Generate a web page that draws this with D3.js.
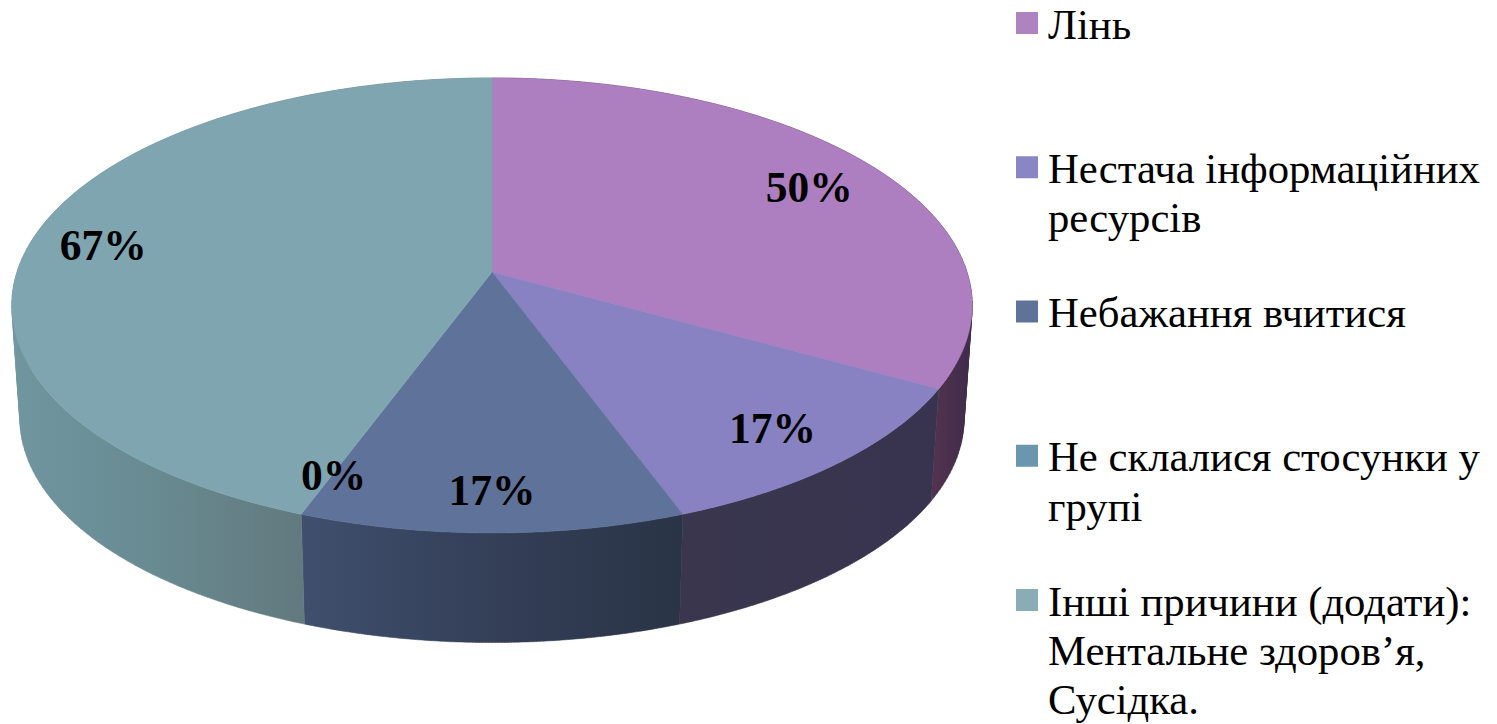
<!DOCTYPE html>
<html lang="uk">
<head>
<meta charset="utf-8">
<title>Причини</title>
<script src="https://cdn.jsdelivr.net/npm/d3@7/dist/d3.min.js"></script>
<style>
html,body{margin:0;padding:0;background:#fff;overflow:hidden}
svg{display:block}
text{font-family:"Liberation Serif","Times New Roman",serif;fill:#000}
</style>
</head>
<body>
<svg id="chart" width="1497" height="724"></svg>
<script>
// Data
const categories = ["Лінь", "Нестача інформаційних\nресурсів", "Небажання вчитися", "Не склалися стосунки у\nгрупі", "Інші причини (додати):\nМентальне здоров’я,\nСусідка."];
const values = [50, 17, 17, 0, 67];
const labels = ["50%", "17%", "17%", "0%", "67%"];

// Styles and layout
const topColors = ["#ad7fc1", "#8881c2", "#5f7299", "#6b96af", "#7fa6b0"];
const swatchColors = ["#ae84c0", "#8a85c5", "#5f7399", "#6b96af", "#8aadb5"];
const sideStops = [
  ["#4a3350", "#563350", "#3d2c4a"],
  ["#39364e", "#39354f", "#38334e"],
  ["#3f4f6d", "#343f58", "#2a3446"],
  ["#3f4f6d", "#3f4f6d", "#3f4f6d"],
  ["#7096a0", "#688a91", "#62797e"]
];
const labelRadius = [0.822, 0.825, 0.85, 0.85, 0.845];
const labelTurn = [0, 0, 0, 0, -0.018];

// Perspective projection of the pie disc
const cx = 492, cy = 272, R = 475, k = 222.6, c = -0.147;
const depthY = 114, depthScale = 0.983;
function project(theta, r = 1, bottom = false) {
  const u = r * Math.sin(theta), v = -r * Math.cos(theta), d = 1 + c * v;
  const s = bottom ? depthScale : 1;
  return [cx + s * R * u / d, cy + (bottom ? depthY : 0) + s * k * v / d];
}

const svg = d3.select("#chart");
const defs = svg.append("defs");
const arcs = d3.pie().sort(null).value(d => d)(values);
const line = d3.line();
const sample = (a0, a1) => d3.range(0, 121).map(i => a0 + (a1 - a0) * i / 120);

// Sides: one consistently wound quad per sampled step, so the silhouette is the true hull
const sides = svg.append("g");
arcs.forEach((a, i) => {
  if (a.endAngle === a.startAngle) return;
  const ts = sample(a.startAngle, a.endAngle);
  const top = ts.map(t => project(t));
  const bot = ts.map(t => project(t, 1, true));
  const visible = top.concat(bot).filter(p => p[1] > cy + 20);
  const [x0, x1] = d3.extent(visible, p => p[0]);
  const g = defs.append("linearGradient").attr("id", "side" + i)
    .attr("gradientUnits", "userSpaceOnUse")
    .attr("x1", x0).attr("x2", x1).attr("y1", 0).attr("y2", 0);
  sideStops[i].forEach((col, j) => g.append("stop").attr("offset", j / 2).attr("stop-color", col));
  let d = "";
  d3.range(ts.length - 1).forEach(j => {
    const quad = [top[j], top[j + 1], bot[j + 1], bot[j]];
    if (d3.polygonArea(quad) < 0) quad.reverse();
    d += line(quad) + "Z";
  });
  sides.append("path").attr("d", d).attr("fill", `url(#side${i})`)
    .attr("stroke", `url(#side${i})`).attr("stroke-width", 0.5);
});

// Top faces
const faces = svg.append("g");
arcs.forEach((a, i) => {
  if (a.endAngle === a.startAngle) return;
  const pts = [[cx, cy]].concat(sample(a.startAngle, a.endAngle).map(t => project(t)));
  faces.append("path").attr("d", line(pts) + "Z").attr("fill", topColors[i])
    .attr("stroke", topColors[i]).attr("stroke-width", 0.5);
});

// Data labels
const labelAt = (d, i) => project((d.startAngle + d.endAngle) / 2 + labelTurn[i], labelRadius[i]);
svg.append("g").selectAll("text").data(arcs).join("text")
  .attr("x", (d, i) => labelAt(d, i)[0])
  .attr("y", (d, i) => labelAt(d, i)[1])
  .attr("dy", 17)
  .attr("text-anchor", "middle")
  .attr("font-size", 43.5).attr("font-weight", "bold")
  .text((d, i) => labels[i]);

// Legend
const legendY = d3.scalePoint().domain(categories).range([12, 589]);
const legend = svg.append("g").selectAll("g").data(categories).join("g")
  .attr("transform", d => `translate(1016,${legendY(d)})`);
legend.append("rect").attr("width", 22).attr("height", 22).attr("fill", (d, i) => swatchColors[i]);
legend.each(function (d) {
  const t = d3.select(this).append("text").attr("font-size", 42.7);
  d.split("\n").forEach((s, j) => t.append("tspan").attr("x", 32).attr("y", 26.7 + j * 49.3).text(s));
});
</script>
</body>
</html>
